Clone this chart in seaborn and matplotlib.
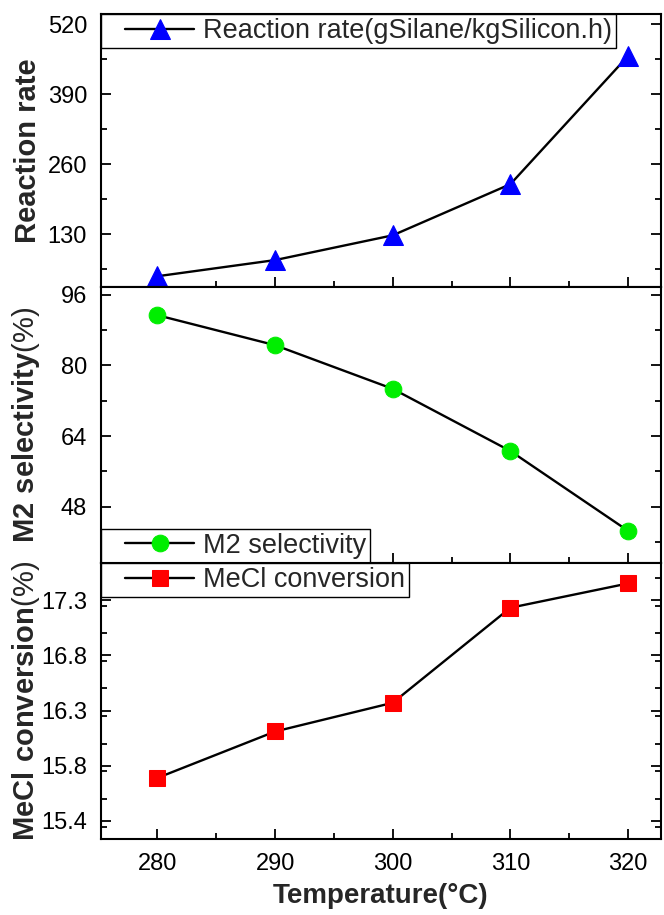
import matplotlib
matplotlib.use("Agg")
import matplotlib.pyplot as plt
import seaborn as sns
from matplotlib.ticker import FixedLocator, MultipleLocator
from matplotlib.legend_handler import HandlerLine2D
from matplotlib.lines import Line2D

temperature = [280, 290, 300, 310, 320]
reaction_rate = [52, 82, 128, 223, 461]
m2_selectivity = [91.4, 84.6, 74.7, 60.6, 42.5]
mecl_conversion = [15.69, 16.11, 16.37, 17.23, 17.45]

rate_ticks = [130, 260, 390, 520]
sel_ticks = [48, 64, 80, 96]
conv_ticks = [15.3, 15.8, 16.3, 16.8, 17.3]
conv_tick_labels = ["15.4", "15.8", "16.3", "16.8", "17.3"]
x_ticks = [280, 290, 300, 310, 320]

sns.set_theme(style="ticks")
fam = ["Liberation Sans", "DejaVu Sans"]
plt.rcParams["font.family"] = fam
plt.rcParams["mathtext.fontset"] = "custom"
plt.rcParams["mathtext.bf"] = "Liberation Sans:bold"
plt.rcParams["mathtext.rm"] = "Liberation Sans"


class PadHandler(HandlerLine2D):
    def create_artists(self, legend, orig_handle, xdescent, ydescent, width,
                       height, fontsize, trans):
        pad = 0.75 * fontsize
        return super().create_artists(legend, orig_handle, xdescent - pad,
                                      ydescent, width - pad, height, fontsize,
                                      trans)


fig = plt.figure(figsize=(6.64, 9.15), dpi=100)
L, W = 101 / 664, 560 / 664
H = 915
ax1 = fig.add_axes([L, 1 - 287 / H, W, 273 / H])
ax2 = fig.add_axes([L, 1 - 563 / H, W, 276 / H])
ax3 = fig.add_axes([L, 1 - 839 / H, W, 276 / H])

lw = 1.7
sns.lineplot(x=temperature, y=reaction_rate, ax=ax1, color="black", lw=lw,
             marker="^", markersize=15, markerfacecolor="#0000ff",
             markeredgecolor="#0000ff", label="Reaction rate(gSilane/kgSilicon.h)")
sns.lineplot(x=temperature, y=m2_selectivity, ax=ax2, color="black", lw=lw,
             marker="o", markersize=12, markerfacecolor="#00ee00",
             markeredgecolor="#00ee00", label="M2 selectivity")
sns.lineplot(x=temperature, y=mecl_conversion, ax=ax3, color="black", lw=lw,
             marker="s", markersize=11, markerfacecolor="#ff0000",
             markeredgecolor="#ff0000", label="MeCl conversion")

ax1.set_ylim(32, 539)
ax1.yaxis.set_major_locator(FixedLocator(rate_ticks))
ax1.yaxis.set_minor_locator(MultipleLocator(65))
ax2.set_ylim(35.2, 97.8)
ax2.yaxis.set_major_locator(FixedLocator(sel_ticks))
ax2.yaxis.set_minor_locator(MultipleLocator(8))
ax3.set_ylim(15.137, 17.635)
ax3.set_yticks(conv_ticks)
ax3.set_yticklabels(conv_tick_labels)
ax3.yaxis.set_minor_locator(MultipleLocator(0.25))

for ax in (ax1, ax2, ax3):
    ax.set_xlim(275.2, 322.8)
    ax.set_xticks(x_ticks)
    ax.xaxis.set_minor_locator(MultipleLocator(5))
    ax.tick_params(which="both", direction="in", right=True, top=False,
                   width=1.3, colors="black")
    ax.tick_params(which="major", length=7, labelsize=17, pad=10)
    ax.tick_params(which="minor", length=4)
    for s in ax.spines.values():
        s.set_linewidth(1.5)
        s.set_color("black")
    ax.set_xlabel("")
for ax in (ax1, ax2):
    ax.tick_params(labelbottom=False)

lab_font = dict(fontsize=21, family=fam)
ax1.set_ylabel("Reaction rate", fontweight="bold", **lab_font)
ax2.set_ylabel(r"$\mathbf{M2\ selectivity}$(%)", **lab_font)
ax3.set_ylabel(r"$\mathbf{MeCl\ conversion}$(%)", **lab_font)
for ax in (ax1, ax2, ax3):
    ax.yaxis.set_label_coords(-0.105, 0.5)
ax3.set_xlabel("Temperature(°C)", fontweight="bold", labelpad=6,
               fontsize=20, family=fam)

leg_kw = dict(frameon=True, fancybox=False, edgecolor="black", framealpha=1,
              borderaxespad=0, handlelength=3.3, handletextpad=0.3,
              prop={"family": fam, "size": 19.5}, borderpad=0.15,
              handler_map={Line2D: PadHandler()})
for ax, loc in ((ax1, "upper left"), (ax2, "lower left"), (ax3, "upper left")):
    leg = ax.legend(loc=loc, **leg_kw)
    leg.get_frame().set_linewidth(1.0)

fig.savefig("out.png", dpi=100)
